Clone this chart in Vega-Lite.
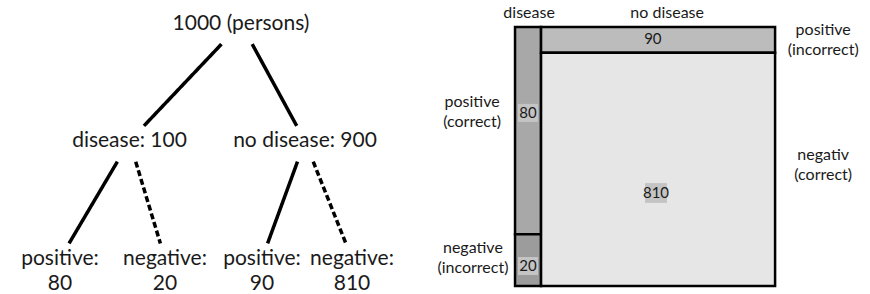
{
  "$schema": "https://vega.github.io/schema/vega-lite/v6.json",
  "padding": 0,
  "spacing": 0,
  "background": "white",
  "config": {"view": {"stroke": null}, "axis": {"disable": true}, "legend": {"disable": true}},
  "datasets": {
    "nodes": [
      {"id": "all", "label": "1000 (persons)", "depth": 0, "pos": 2.41},
      {"id": "d", "label": "disease: 100", "depth": 1, "pos": 1.295},
      {"id": "nd", "label": "no disease: 900", "depth": 1, "pos": 3.05},
      {"id": "dp", "label": "positive:", "count": 80, "depth": 2, "pos": 0.60},
      {"id": "dn", "label": "negative:", "count": 20, "depth": 2, "pos": 1.65},
      {"id": "ndp", "label": "positive:", "count": 90, "depth": 2, "pos": 2.62},
      {"id": "ndn", "label": "negative:", "count": 810, "depth": 2, "pos": 3.52}
    ],
    "edges": [
      {"from": "all", "to": "d", "branch": "disease"},
      {"from": "all", "to": "nd", "branch": "no disease"},
      {"from": "d", "to": "dp", "branch": "positive"},
      {"from": "d", "to": "dn", "branch": "negative"},
      {"from": "nd", "to": "ndp", "branch": "positive"},
      {"from": "nd", "to": "ndn", "branch": "negative"}
    ],
    "cells": [
      {"disease": "disease", "test": "positive", "outcome": "positive (correct)", "count": 80},
      {"disease": "disease", "test": "negative", "outcome": "negative (incorrect)", "count": 20},
      {"disease": "no disease", "test": "positive", "outcome": "positive (incorrect)", "count": 90},
      {"disease": "no disease", "test": "negative", "outcome": "negativ (correct)", "count": 810}
    ]
  },
  "hconcat": [
    {
      "width": 430,
      "height": 294,
      "layer": [
        {
          "data": {"name": "edges"},
          "transform": [
            {"lookup": "from", "from": {"data": {"name": "nodes"}, "key": "id", "fields": ["pos", "depth"]}, "as": ["fpos", "fdepth"]},
            {"lookup": "to", "from": {"data": {"name": "nodes"}, "key": "id", "fields": ["pos", "depth"]}, "as": ["tpos", "tdepth"]},
            {"calculate": "datum.fpos + 0.175 * (datum.tpos - datum.fpos)", "as": "xs"},
            {"calculate": "datum.fdepth + 0.175 * (datum.tdepth - datum.fdepth)", "as": "ys"},
            {"calculate": "datum.fpos + 0.87 * (datum.tpos - datum.fpos)", "as": "xe"},
            {"calculate": "datum.fdepth + 0.87 * (datum.tdepth - datum.fdepth)", "as": "ye"}
          ],
          "mark": {"type": "rule", "color": "black", "strokeCap": "butt"},
          "encoding": {
            "x": {"field": "xs", "type": "quantitative", "scale": {"domain": [0, 4.3], "nice": false, "zero": false}, "axis": null},
            "x2": {"field": "xe"},
            "y": {"field": "ys", "type": "quantitative", "scale": {"domain": [-0.2, 2.3], "reverse": true, "nice": false, "zero": false}, "axis": null},
            "y2": {"field": "ye"},
            "strokeDash": {"field": "branch", "type": "nominal", "scale": {"domain": ["disease", "no disease", "positive", "negative"], "range": [[1, 0], [1, 0], [1, 0], [6, 3]]}, "legend": null},
            "strokeWidth": {"field": "branch", "type": "ordinal", "scale": {"domain": ["disease", "no disease", "positive", "negative"], "range": [3.5, 3.5, 3.5, 2.5]}, "legend": null}
          }
        },
        {
          "data": {"name": "nodes"},
          "mark": {"type": "text", "font": "Lato", "fontSize": 21, "color": "#1a1a1a", "baseline": "middle", "align": "center"},
          "encoding": {
            "x": {"field": "pos", "type": "quantitative", "axis": null},
            "y": {"field": "depth", "type": "quantitative", "axis": null},
            "text": {"field": "label"}
          }
        },
        {
          "data": {"name": "nodes"},
          "transform": [{"filter": "isValid(datum.count)"}],
          "mark": {"type": "text", "font": "Lato", "fontSize": 21, "color": "#1a1a1a", "baseline": "middle", "align": "center", "dy": 25},
          "encoding": {
            "x": {"field": "pos", "type": "quantitative", "axis": null},
            "y": {"field": "depth", "type": "quantitative", "axis": null},
            "text": {"field": "count"}
          }
        }
      ]
    },
    {
      "width": 440,
      "height": 294,
      "data": {"name": "cells"},
      "transform": [
        {"stack": "count", "groupby": ["disease"], "sort": [{"field": "test", "order": "descending"}], "offset": "normalize", "as": ["y0", "y1"]},
        {"stack": "count", "groupby": [], "sort": [{"field": "disease", "order": "ascending"}, {"field": "test", "order": "descending"}], "offset": "normalize", "as": ["sx0", "sx1"]},
        {"joinaggregate": [{"op": "min", "field": "sx0", "as": "x0"}, {"op": "max", "field": "sx1", "as": "x1"}], "groupby": ["disease"]}
      ],
      "layer": [
        {
          "mark": {"type": "rect", "stroke": "black", "strokeWidth": 2.5},
          "encoding": {
            "x": {"field": "x0", "type": "quantitative", "scale": {"domain": [-0.327, 1.365], "nice": false, "zero": false}, "axis": null},
            "x2": {"field": "x1"},
            "y": {"field": "y0", "type": "quantitative", "scale": {"domain": [-0.104, 1.031], "reverse": true, "nice": false, "zero": false}, "axis": null},
            "y2": {"field": "y1"},
            "fill": {"field": "outcome", "type": "nominal", "scale": {"domain": ["positive (correct)", "negative (incorrect)", "positive (incorrect)", "negativ (correct)"], "range": ["#a8a8a8", "#9c9c9c", "#bcbcbc", "#e6e6e6"]}, "legend": null}
          }
        },
        {
          "transform": [{"filter": "datum.outcome === 'positive (correct)'"}],
          "mark": {"type": "text", "font": "Lato", "fontSize": 16, "color": "#1a1a1a", "baseline": "middle"},
          "encoding": {
            "x": {"datum": 0.054},
            "y": {"datum": -0.054},
            "text": {"field": "disease"}
          }
        },
        {
          "transform": [{"filter": "datum.outcome === 'positive (incorrect)'"}],
          "mark": {"type": "text", "font": "Lato", "fontSize": 16, "color": "#1a1a1a", "baseline": "middle"},
          "encoding": {
            "x": {"datum": 0.585},
            "y": {"datum": -0.054},
            "text": {"field": "disease"}
          }
        },
        {
          "transform": [{"filter": "datum.outcome === 'positive (correct)'"}],
          "layer": [
            {"mark": {"type": "point", "shape": "M-1,-0.9H1V0.9H-1Z", "filled": true, "fill": "#c4c4c4", "opacity": 1, "strokeWidth": 0, "size": 400},
             "encoding": {"x": {"datum": 0.05}, "y": {"datum": 0.332}}},
            {"mark": {"type": "text", "font": "Lato", "fontSize": 15, "color": "#1a1a1a", "baseline": "middle"},
             "encoding": {"x": {"datum": 0.05}, "y": {"datum": 0.332}, "text": {"field": "count"}}},
            {"mark": {"type": "text", "font": "Lato", "fontSize": 16, "color": "#1a1a1a", "baseline": "middle", "lineBreak": " ", "lineHeight": 20},
             "encoding": {"x": {"datum": -0.165}, "y": {"datum": 0.29}, "text": {"field": "outcome"}}}
          ]
        },
        {
          "transform": [{"filter": "datum.outcome === 'negative (incorrect)'"}],
          "layer": [
            {"mark": {"type": "point", "shape": "M-1,-0.9H1V0.9H-1Z", "filled": true, "fill": "#c4c4c4", "opacity": 1, "strokeWidth": 0, "size": 400},
             "encoding": {"x": {"datum": 0.05}, "y": {"datum": 0.923}}},
            {"mark": {"type": "text", "font": "Lato", "fontSize": 15, "color": "#1a1a1a", "baseline": "middle"},
             "encoding": {"x": {"datum": 0.05}, "y": {"datum": 0.923}, "text": {"field": "count"}}},
            {"mark": {"type": "text", "font": "Lato", "fontSize": 16, "color": "#1a1a1a", "baseline": "middle", "lineBreak": " ", "lineHeight": 20},
             "encoding": {"x": {"datum": -0.162}, "y": {"datum": 0.853}, "text": {"field": "outcome"}}}
          ]
        },
        {
          "transform": [{"filter": "datum.outcome === 'positive (incorrect)'"}],
          "layer": [
            {"mark": {"type": "text", "font": "Lato", "fontSize": 15, "color": "#1a1a1a", "baseline": "middle"},
             "encoding": {"x": {"datum": 0.53}, "y": {"datum": 0.046}, "text": {"field": "count"}}},
            {"mark": {"type": "text", "font": "Lato", "fontSize": 16, "color": "#1a1a1a", "baseline": "middle", "lineBreak": " ", "lineHeight": 20},
             "encoding": {"x": {"datum": 1.185}, "y": {"datum": 0.012}, "text": {"field": "outcome"}}}
          ]
        },
        {
          "transform": [{"filter": "datum.outcome === 'negativ (correct)'"}],
          "layer": [
            {"mark": {"type": "point", "shape": "M-1,-0.9H1V0.9H-1Z", "filled": true, "fill": "#c4c4c4", "opacity": 1, "strokeWidth": 0, "size": 484},
             "encoding": {"x": {"datum": 0.542}, "y": {"datum": 0.641}}},
            {"mark": {"type": "text", "font": "Lato", "fontSize": 15, "color": "#1a1a1a", "baseline": "middle"},
             "encoding": {"x": {"datum": 0.542}, "y": {"datum": 0.641}, "text": {"field": "count"}}},
            {"mark": {"type": "text", "font": "Lato", "fontSize": 16, "color": "#1a1a1a", "baseline": "middle", "lineBreak": " ", "lineHeight": 20},
             "encoding": {"x": {"datum": 1.185}, "y": {"datum": 0.493}, "text": {"field": "outcome"}}}
          ]
        }
      ]
    }
  ]
}
